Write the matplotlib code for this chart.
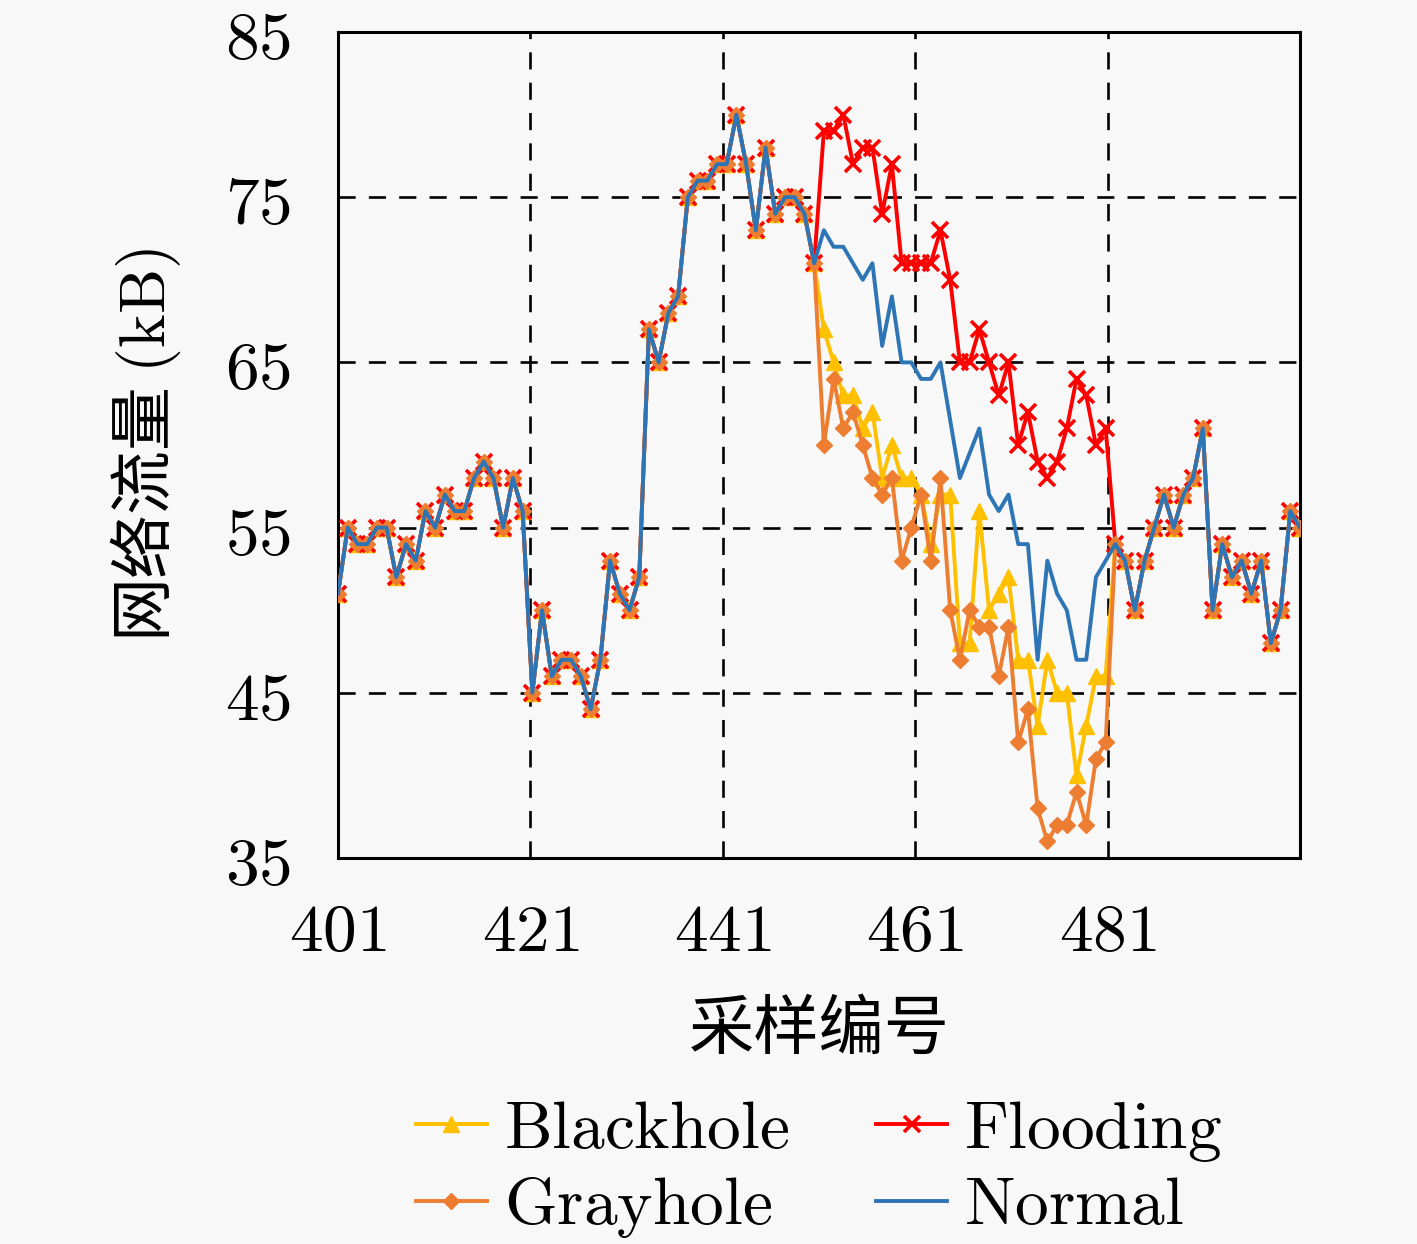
import numpy as np
import matplotlib
matplotlib.use("Agg")
import matplotlib.pyplot as plt

plt.rcParams['mathtext.fontset'] = 'cm'
plt.rcParams['font.family'] = ['Noto Sans CJK SC', 'DejaVu Sans']

# ---- data ----
samples = list(range(401, 501))
head = [51, 55, 54, 54, 55, 55, 52, 54, 53, 56, 55, 57, 56, 56, 58, 59, 58, 55, 58, 56,
        45, 50, 46, 47, 47, 46, 44, 47, 53, 51, 50, 52, 67, 65, 68, 69, 75, 76, 76, 77,
        77, 80, 77, 73, 78, 74, 75, 75, 74, 71]
tail = [54, 53, 50, 53, 55, 57, 55, 57, 58, 61,
        50, 54, 52, 53, 51, 53, 48, 50, 56, 55]
normal_mid = [73, 72, 72, 71, 70, 71, 66, 69, 65, 65,
              64, 64, 65, 61.5, 58, 59.5, 61, 57, 56, 57,
              54, 54, 47, 53, 51, 50, 47, 47, 52, 53]
flooding_mid = [79, 79, 80, 77, 78, 78, 74, 77, 71, 71,
                71, 71, 73, 70, 65, 65, 67, 65, 63, 65,
                60, 62, 59, 58, 59, 61, 64, 63, 60, 61]
blackhole_mid = [67, 65, 63, 63, 61, 62, 58, 60, 58, 58,
                 57, 54, 57, 57, 48, 48, 56, 50, 51, 52,
                 47, 47, 43, 47, 45, 45, 40, 43, 46, 46]
grayhole_mid = [60, 64, 61, 62, 60, 58, 57, 58, 53, 55,
                57, 53, 58, 50, 47, 50, 49, 49, 46, 49,
                42, 44, 38, 36, 37, 37, 39, 37, 41, 42]
x_tick_labels = ['401', '421', '441', '461', '481']
y_ticks = [35, 45, 55, 65, 75, 85]

normal = head + normal_mid + tail
flooding = head + flooding_mid + tail
blackhole = head + blackhole_mid + tail
grayhole = head + grayhole_mid + tail

# ---- figure ----
bg = '#f8f8f8'
fig = plt.figure(figsize=(14.17, 12.44), dpi=100, facecolor=bg)
ax = fig.add_axes([338/1417, 1-858/1244, (1300-338)/1417, (858-32)/1244])
ax.set_facecolor(bg)

x = np.array(samples)
lw = 2.8
l_b, = ax.plot(x, blackhole, color='#FFC000', lw=lw, marker='^', ms=12,
               mec='#FFC000', mfc='#FFC000', label=r'$\mathrm{Blackhole}$', zorder=3)
l_f, = ax.plot(x, flooding, color='#FF0000', lw=lw, marker='x', ms=11, mew=2.6,
               label=r'$\mathrm{Flooding}$', zorder=4)
l_g, = ax.plot(x, grayhole, color='#ED7D31', lw=lw, marker='D', ms=8.5,
               mec='#ED7D31', mfc='#ED7D31', label=r'$\mathrm{Grayhole}$', zorder=5)
l_n, = ax.plot(x, normal, color='#2E75B6', lw=lw, label=r'$\mathrm{Normal}$', zorder=6)

ax.set_xlim(samples[0], samples[-1])
ax.set_ylim(y_ticks[0], y_ticks[-1])
xt = np.linspace(samples[0], samples[-1], len(x_tick_labels) + 1)[:-1]
ax.set_xticks(xt)
ax.set_xticklabels(['$%s$' % t for t in x_tick_labels], fontsize=48.5)
ax.set_yticks(y_ticks)
ax.set_yticklabels(['$%d$' % t for t in y_ticks], fontsize=48.5)
ax.tick_params(axis='y', length=0, pad=34)
ax.tick_params(axis='x', length=0, pad=28)

ax.grid(True, color='black', lw=1.9, linestyle=(0, (6.5, 5)), zorder=1)
ax.set_axisbelow(True)
for s in ax.spines.values():
    s.set_linewidth(2.2)
    s.set_color('black')

ax.set_ylabel('网络流量 $\\mathrm{(kB)}$', fontsize=46, labelpad=30)
ax.set_xlabel('采样编号', fontsize=47, labelpad=22)

fig.legend(handles=[l_b, l_g, l_f, l_n], loc='center', bbox_to_anchor=(0.578, 0.062),
           ncol=2, frameon=False, fontsize=48.5, handlelength=1.05, handletextpad=0.25,
           columnspacing=1.3, labelspacing=0.1)

fig.savefig('out.png', dpi=100, facecolor=bg)
